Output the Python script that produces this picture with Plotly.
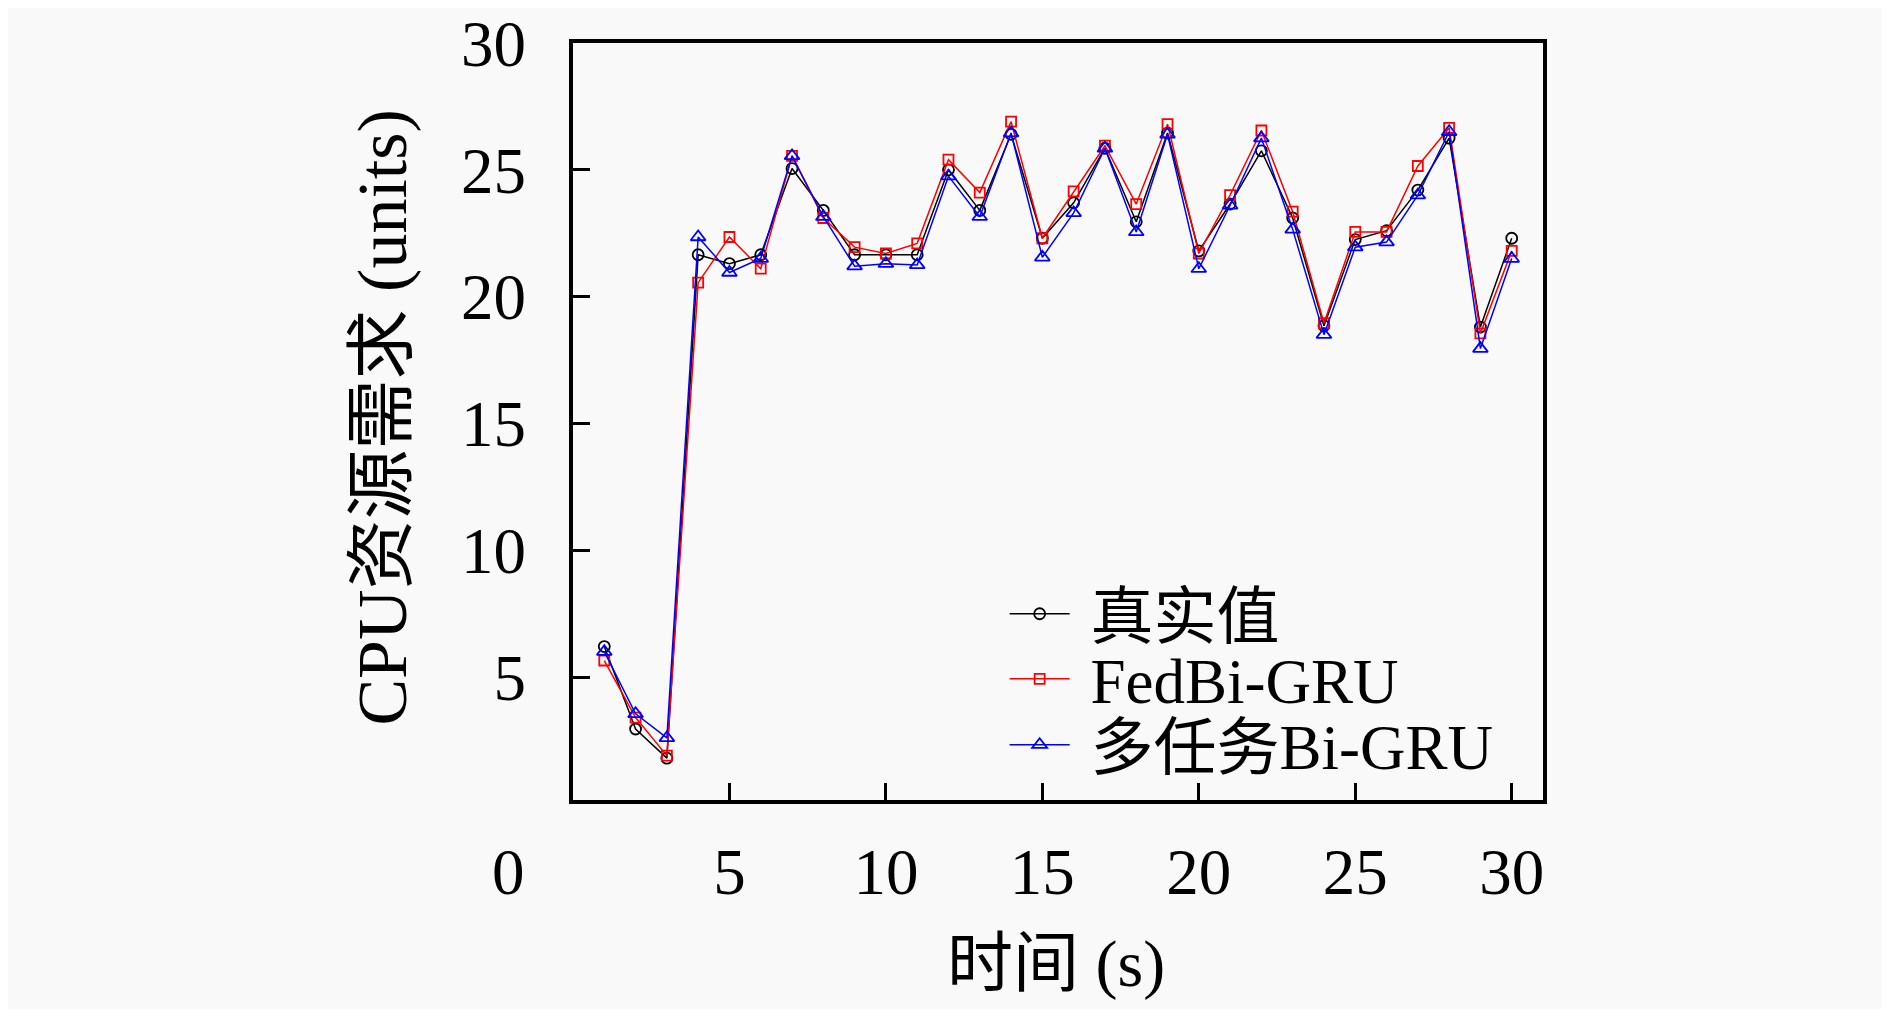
import plotly.graph_objects as go

# time steps (s)
t = list(range(1, 31))

# CPU demand
real_vals = [6.2, 2.95, 1.8, 21.65, 21.3, 21.65, 25.05, 23.4, 21.65, 21.65,
             21.65, 25.0, 23.4, 26.4, 22.3, 23.7, 25.85, 22.95, 26.45, 21.8,
             23.65, 25.75, 23.1, 18.85, 22.25, 22.6, 24.2, 26.25, 18.8, 22.3]
fedbi_vals = [5.65, 3.4, 1.9, 20.55, 22.35, 21.1, 25.55, 23.1, 21.95, 21.7,
              22.1, 25.4, 24.1, 26.9, 22.3, 24.15, 25.95, 23.65, 26.8, 21.7,
              24.0, 26.55, 23.35, 18.95, 22.55, 22.55, 25.15, 26.65, 18.55, 21.8]
multi_vals = [6.0, 3.55, 2.6, 22.35, 20.95, 21.5, 25.55, 23.15, 21.2, 21.3,
              21.25, 24.75, 23.15, 26.45, 21.55, 23.3, 25.85, 22.55, 26.4, 21.1,
              23.6, 26.25, 22.65, 18.5, 21.95, 22.15, 24.0, 26.5, 17.95, 21.5]

x_ticks = [5, 10, 15, 20, 25, 30]
y_ticks = [5, 10, 15, 20, 25, 30]

FONT = "Liberation Serif, Noto Sans CJK SC"
BG = "#f9f9f9"
NB = "\u00a0"

fig = go.Figure()

fig.add_trace(go.Scatter(
    x=t, y=real_vals, mode="lines+markers", name=NB + "真实值", legend="legend",
    line=dict(color="black", width=1.5),
    marker=dict(symbol="circle-open", size=11, color="black", line=dict(width=1.8)),
))
fig.add_trace(go.Scatter(
    x=t, y=fedbi_vals, mode="lines+markers", name=NB + "FedBi-GRU", legend="legend2",
    line=dict(color="red", width=1.5),
    marker=dict(symbol="square-open", size=10, color="red", line=dict(width=1.8)),
))
fig.add_trace(go.Scatter(
    x=t, y=multi_vals, mode="lines+markers", name=NB + "多任务Bi-GRU", legend="legend3",
    line=dict(color="blue", width=1.5),
    marker=dict(symbol="triangle-up-open", size=13, color="blue", line=dict(width=1.8)),
))

# one legend per entry so the rows can sit closer than plotly's default spacing
leg_common = dict(
    x=0.445, xanchor="left", yanchor="middle",
    bgcolor="rgba(0,0,0,0)", borderwidth=0,
    font=dict(family=FONT, size=63), itemwidth=60,
)

fig.update_layout(
    width=1874, height=1001,
    margin=dict(l=565, r=339, t=35, b=209),
    paper_bgcolor=BG, plot_bgcolor=BG,
    font=dict(family=FONT, size=65, color="black"),
    showlegend=True,
    legend=dict(y=0.246, **leg_common),
    legend2=dict(y=0.160, **leg_common),
    legend3=dict(y=0.073, **leg_common),
    xaxis=dict(
        range=[0, 31], tickvals=x_ticks, ticks="inside", ticklen=17, tickwidth=3,
        tickcolor="black", showline=True, linewidth=4, linecolor="black",
        mirror=True, showgrid=False, zeroline=False, automargin=False,
        ticklabelstandoff=12, ticklabeloverflow="allow",
    ),
    yaxis=dict(
        range=[0.15, 30], tickvals=y_ticks, ticks="inside", ticklen=17, tickwidth=3,
        tickcolor="black", showline=True, linewidth=4, linecolor="black",
        mirror=True, showgrid=False, zeroline=False, automargin=False,
        ticklabelstandoff=30, ticklabeloverflow="allow",
    ),
)

# axis titles
fig.add_annotation(
    text="时间 (s)", xref="paper", yref="paper", x=0.498, y=-0.217,
    xanchor="center", yanchor="middle", showarrow=False,
    font=dict(family=FONT, size=66, color="black"),
)
fig.add_annotation(
    text="CPU资源需求 (units)", xref="paper", yref="paper", x=-0.196, y=0.505,
    xanchor="center", yanchor="middle", textangle=-90, showarrow=False,
    font=dict(family=FONT, size=70, color="black"),
)

# stray "0" label below the y axis, as in the reference
fig.add_annotation(
    text="0", xref="paper", yref="paper", x=-0.047, y=-0.095,
    xanchor="right", yanchor="middle", showarrow=False,
    font=dict(family=FONT, size=65, color="black"),
)

fig.write_html("out.html")
